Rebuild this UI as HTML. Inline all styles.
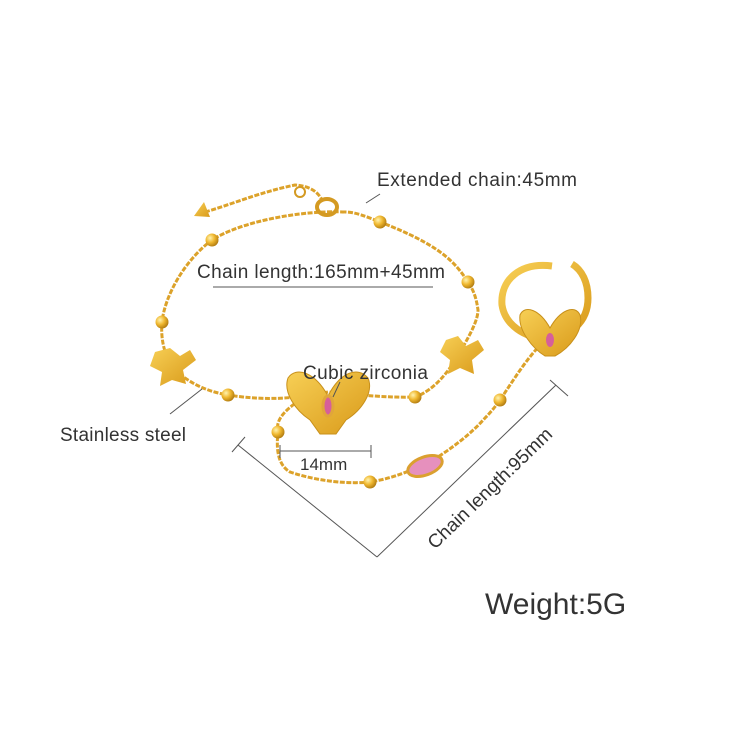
<!DOCTYPE html><html><head><style>body{margin:0;background:#fff}svg{display:block}text{font-family:"Liberation Sans",sans-serif;fill:#333}</style></head><body>
<svg width="750" height="750" viewBox="0 0 750 750">
<defs>
<radialGradient id="g" cx="35%" cy="35%" r="70%"><stop offset="0" stop-color="#fff3b0"/><stop offset=".5" stop-color="#f0b830"/><stop offset="1" stop-color="#b07a10"/></radialGradient>
<linearGradient id="b" x1="0" y1="0" x2="1" y2="1"><stop offset="0" stop-color="#f7cf55"/><stop offset="1" stop-color="#d99a1a"/></linearGradient>
</defs>
<g fill="none" stroke="#dca22a" stroke-width="3" stroke-dasharray="5 1.5">
<path d="M345 212 C300 210 240 222 212 240 C185 260 165 295 162 322 C160 345 168 360 172 367 C190 385 210 392 228 395 C260 400 290 400 328 392 C360 395 390 398 415 397 C435 390 450 370 460 352 C470 335 478 320 478 310 C476 295 472 288 468 282 C455 262 440 245 380 222 C365 216 355 212 345 212"/>
<path d="M300 400 C285 410 275 420 278 432 C276 450 278 465 290 472 C320 482 350 484 370 482 C395 478 410 470 425 465 C450 450 470 435 485 418 C495 408 500 400 510 385 C520 370 530 355 545 340"/>
<path d="M205 212 C230 205 260 192 295 185 C310 186 318 192 322 200"/>
</g>
<path d="M194 216 L204 202 L210 217 Z" fill="url(#b)"/>
<ellipse cx="327" cy="207" rx="10" ry="8" fill="none" stroke="#d49a22" stroke-width="4"/>
<circle cx="300" cy="192" r="5" fill="none" stroke="#d49a22" stroke-width="2"/>
<g fill="url(#g)">
<circle cx="212" cy="240" r="6.5"/><circle cx="380" cy="222" r="6.5"/><circle cx="468" cy="282" r="6.5"/><circle cx="162" cy="322" r="6.5"/><circle cx="228" cy="395" r="6.5"/><circle cx="415" cy="397" r="6.5"/><circle cx="278" cy="432" r="6.5"/><circle cx="370" cy="482" r="6.5"/><circle cx="500" cy="400" r="6.5"/>
</g>
<path d="M155 352 L170 348 L180 356 L190 350 L196 360 L183 370 L186 384 L172 380 L160 386 L162 372 L150 366 Z" fill="url(#b)"/>
<path d="M446 340 L458 336 L466 346 L478 340 L484 350 L472 360 L474 374 L460 368 L448 374 L450 360 L440 352 Z" fill="url(#b)"/>
<path d="M328 396 C315 372 296 366 288 378 C283 392 295 410 310 420 L320 434 L336 434 L346 420 C362 410 374 392 368 378 C358 366 340 372 328 396 Z" fill="url(#b)" stroke="#c8901a" stroke-width="1"/>
<ellipse cx="328" cy="406" rx="5" ry="10" fill="#d65f9a" stroke="#e0a63a" stroke-width="3"/>
<ellipse cx="425" cy="466" rx="18" ry="9" transform="rotate(-20 425 466)" fill="#e690bd" stroke="#dba030" stroke-width="3"/>
<path d="M552 266 C520 262 500 280 502 305 C505 325 525 338 545 338 C570 338 588 322 588 298 C588 282 582 270 572 264" fill="none" stroke="url(#b)" stroke-width="7"/>
<path d="M550 328 C540 310 525 304 520 315 C518 330 532 348 545 356 L555 356 C570 348 584 330 580 315 C575 304 560 310 550 328 Z" fill="url(#b)" stroke="#c8901a" stroke-width="1"/>
<ellipse cx="550" cy="340" rx="4" ry="7" fill="#d65f9a"/>
<g stroke="#555" stroke-width="1" fill="none">
<line x1="366" y1="203" x2="380" y2="194"/>
<line x1="213" y1="287" x2="433" y2="287"/>
<line x1="340" y1="382" x2="333" y2="397"/>
<line x1="170" y1="414" x2="202" y2="389"/>
<line x1="280" y1="451" x2="371" y2="451"/><line x1="280" y1="445" x2="280" y2="458"/><line x1="371" y1="445" x2="371" y2="458"/>
<line x1="238" y1="445" x2="377" y2="557"/><line x1="232" y1="452" x2="245" y2="437"/>
<line x1="377" y1="557" x2="556" y2="385"/><line x1="550" y1="380" x2="568" y2="396"/>
</g>
<text x="377" y="186" font-size="19" textLength="200">Extended chain:45mm</text>
<text x="197" y="278" font-size="19" textLength="248">Chain length:165mm+45mm</text>
<text x="303" y="379" font-size="19" textLength="125">Cubic zirconia</text>
<text x="60" y="441" font-size="19" textLength="126">Stainless steel</text>
<text x="300" y="470" font-size="17">14mm</text>
<text x="0" y="0" font-size="19" transform="translate(435 550) rotate(-44)">Chain length:95mm</text>
<text x="485" y="614" font-size="30">Weight:5G</text>
</svg></body></html>
